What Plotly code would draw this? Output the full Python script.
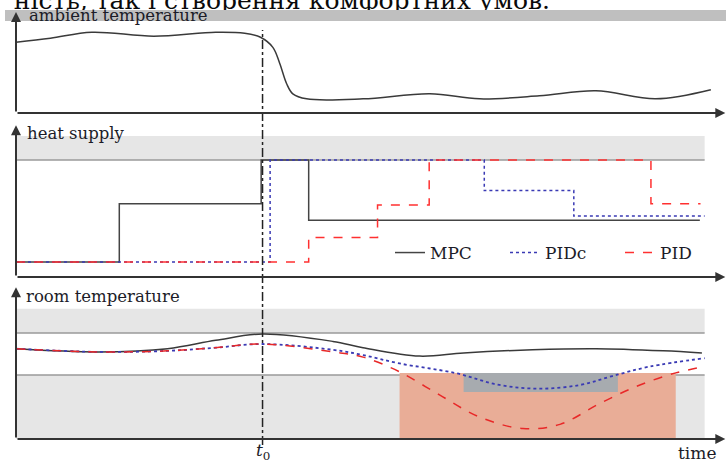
import plotly.graph_objects as go

W, H = 726, 464

# ---------------- data ----------------
amb_t = [0, 5, 11, 20, 29, 33.2, 35.5, 37.3, 38.3, 39.3, 40.2, 42.2, 50.4, 60.1, 67.3, 76, 84.2, 92.9, 100.9]
amb_v = [7.0, 7.4, 8.0, 7.6, 8.0, 7.9, 7.5, 6.5, 4.9, 2.9, 1.9, 1.4, 1.4, 1.9, 1.4, 1.7, 2.2, 1.4, 2.3]

mpc_q_t = [0, 15, 35.6, 42.5, 99.3]
mpc_q = [0, 57, 100, 41, 41]
pidc_q_t = [0, 36.9, 68, 81, 100]
pidc_q = [0, 100, 70, 45, 45]
pid_q_t = [0, 42.5, 52.5, 60, 92.2, 99.4]
pid_q = [0, 24, 56, 100, 57, 57]
q_max = 100
q_band_top = 123.5

mpc_T_t = [0, 12, 22, 29, 35.8, 46, 50.4, 58.6, 65, 75, 84.2, 94, 99.6]
mpc_T = [22.5, 22.2, 22.5, 23.3, 23.9, 23.2, 22.6, 21.8, 22.1, 22.4, 22.5, 22.3, 22.1]
pidc_T_t = [0, 12, 22, 29, 35.8, 46, 50.4, 55.7, 63.7, 70.2, 76.1, 81.9, 86.6, 92, 100]
pidc_T = [22.5, 22.2, 22.3, 22.6, 22.95, 22.4, 21.9, 21.1, 20.2, 19.05, 18.7, 19.05, 19.9, 20.8, 21.6]
pid_T_t = [0, 12, 22, 29, 35.8, 46, 50.4, 55.7, 61.5, 67.3, 73.6, 79, 84.8, 90.6, 95.8, 100]
pid_T = [22.5, 22.2, 22.3, 22.6, 22.95, 22.2, 21.7, 20.3, 18.1, 16.0, 14.9, 15.3, 17.3, 19.05, 20.2, 20.8]
T_low, T_high = 20, 24
T_band_top = 26.3
pid_viol = (55.7, 95.8, 20.19)
pidc_viol = (65, 87.4, 18.38, 20.19)

t0 = 35.8
t_end = 100

page_text = "ність, так і створення комфортних умов."

x_rng = [0, 103.1]
x_dom = [16 / W, 1]
def pdom(top_px, bot_px):
    return [1 - bot_px / H, 1 - top_px / H]

y1_rng = [0, 10.0]
y2_rng = [-14.7, 134.3]
y3_rng = [13.905, 28.38]

AX = "#333333"
FONT = "DejaVu Serif"
TXT = "#1c1c28"

fig = go.Figure()
fig.add_trace(go.Scatter(x=amb_t, y=amb_v, mode="lines", line=dict(color="#3a3a3a", width=1.5, shape="spline", smoothing=1.0),
                         xaxis="x", yaxis="y", showlegend=False, hoverinfo="skip"))
fig.add_trace(go.Scatter(x=mpc_q_t, y=mpc_q, mode="lines", name="MPC", line=dict(color="#444444", width=1.5, shape="hv"),
                         xaxis="x2", yaxis="y2"))
fig.add_trace(go.Scatter(x=pidc_q_t, y=pidc_q, mode="lines", name="PIDc", line=dict(color="#3a3ab4", width=1.5, dash="dot", shape="hv"),
                         xaxis="x2", yaxis="y2"))
fig.add_trace(go.Scatter(x=pid_q_t, y=pid_q, mode="lines", name="PID", line=dict(color="#ff3030", width=1.5, dash="dash", shape="hv"),
                         xaxis="x2", yaxis="y2"))
fig.add_trace(go.Scatter(x=mpc_T_t, y=mpc_T, mode="lines", line=dict(color="#3a3a3a", width=1.5, shape="spline"),
                         xaxis="x3", yaxis="y3", showlegend=False))
fig.add_trace(go.Scatter(x=pidc_T_t, y=pidc_T, mode="lines", line=dict(color="#3a3ab4", width=1.8, dash="dot", shape="spline"),
                         xaxis="x3", yaxis="y3", showlegend=False))
fig.add_trace(go.Scatter(x=pid_T_t, y=pid_T, mode="lines", line=dict(color="#e82828", width=1.5, dash="dash", shape="spline"),
                         xaxis="x3", yaxis="y3", showlegend=False))
# cut-off line of page text above the figure: placed in a thin top strip, clipped there
fig.add_trace(go.Scatter(x=[550], y=[20], mode="text", text=[page_text], textposition="bottom left",
                         textfont=dict(family=FONT, size=25, color="#0a0a0a"), cliponaxis=True,
                         xaxis="x4", yaxis="y4", showlegend=False, hoverinfo="skip"))

shapes = []
shapes.append(dict(type="rect", xref="paper", yref="paper", x0=5 / W, x1=1, y0=1 - 21 / H, y1=1 - 10 / H,
                   fillcolor="#bfbfbf", line=dict(width=0), layer="below"))
shapes.append(dict(type="rect", xref="x2", yref="y2", x0=0, x1=t_end, y0=q_max, y1=q_band_top,
                   fillcolor="#e6e6e6", line=dict(width=0), layer="below"))
shapes.append(dict(type="rect", xref="paper", yref="paper", x0=20 / W, x1=143 / W, y0=1 - 149 / H, y1=1 - 120 / H,
                   fillcolor="white", line=dict(width=0), layer="below"))
shapes.append(dict(type="line", xref="x2", yref="y2", x0=0, x1=t_end, y0=q_max, y1=q_max,
                   line=dict(color="#9a9a9a", width=1.5), layer="below"))
shapes.append(dict(type="rect", xref="x3", yref="y3", x0=0, x1=t_end, y0=T_high, y1=T_band_top,
                   fillcolor="#e6e6e6", line=dict(width=0), layer="below"))
shapes.append(dict(type="rect", xref="x3", yref="y3", x0=0, x1=t_end, y0=y3_rng[0], y1=T_low,
                   fillcolor="#e6e6e6", line=dict(width=0), layer="below"))
shapes.append(dict(type="line", xref="x3", yref="y3", x0=0, x1=t_end, y0=T_high, y1=T_high,
                   line=dict(color="#9a9a9a", width=1.5), layer="below"))
shapes.append(dict(type="line", xref="x3", yref="y3", x0=0, x1=t_end, y0=T_low, y1=T_low,
                   line=dict(color="#9a9a9a", width=1.5), layer="below"))
shapes.append(dict(type="rect", xref="x3", yref="y3", x0=pid_viol[0], x1=pid_viol[1], y0=y3_rng[0], y1=pid_viol[2],
                   fillcolor="#e9ad97", line=dict(width=0), layer="below"))
shapes.append(dict(type="rect", xref="x3", yref="y3", x0=pidc_viol[0], x1=pidc_viol[1], y0=pidc_viol[2], y1=pidc_viol[3],
                   fillcolor="#a7abaf", line=dict(width=0), layer="below"))
shapes.append(dict(type="line", xref="x3", yref="paper", x0=t0, x1=t0, y0=1 - 445 / H, y1=1 - 30 / H,
                   line=dict(color="#222222", width=1.5, dash="dashdot")))

annotations = []
def arrow(xref, yref, x, y, ax, ay):
    annotations.append(dict(xref=xref, yref=yref, axref=xref, ayref=yref, x=x, y=y, ax=ax, ay=ay, text="",
                            showarrow=True, arrowhead=2, arrowsize=1, arrowwidth=2, arrowcolor=AX, standoff=0))

for xr, yr, rng in (("x", "y", y1_rng), ("x2", "y2", y2_rng), ("x3", "y3", y3_rng)):
    arrow(xr, yr, 103.0, rng[0], 0, rng[0])
    arrow(xr, yr, 0, rng[1] - 0.001 * (rng[1] - rng[0]), 0, rng[0])

def label(text, xpx, ypx, size=16.5, anchor="left", yanchor="middle"):
    annotations.append(dict(xref="paper", yref="paper", x=xpx / W, y=1 - ypx / H, text=text, showarrow=False,
                            xanchor=anchor, yanchor=yanchor, font=dict(family=FONT, size=size, color=TXT)))

label("ambient temperature", 27, 16)
label("heat supply", 25, 134)
label("room temperature", 24, 296)
label("<i>t</i><sub>0</sub>", 263, 451, size=17, anchor="center")
label("time", 697, 453, size=17, anchor="center")

axis_common = dict(visible=False, showgrid=False, zeroline=False, fixedrange=True)
fig.update_layout(
    width=W, height=H,
    margin=dict(l=0, r=0, t=0, b=0, autoexpand=False),
    paper_bgcolor="white", plot_bgcolor="rgba(0,0,0,0)",
    font=dict(family=FONT),
    xaxis=dict(domain=x_dom, range=x_rng, anchor="y", **axis_common),
    yaxis=dict(domain=pdom(12, 113), range=y1_rng, anchor="x", **axis_common),
    xaxis2=dict(domain=x_dom, range=x_rng, anchor="y2", **axis_common),
    yaxis2=dict(domain=pdom(125, 277), range=y2_rng, anchor="x2", **axis_common),
    xaxis3=dict(domain=x_dom, range=x_rng, anchor="y3", **axis_common),
    yaxis3=dict(domain=pdom(287, 439), range=y3_rng, anchor="x3", **axis_common),
    xaxis4=dict(domain=[0, 1], range=[0, W], anchor="y4", **axis_common),
    yaxis4=dict(domain=pdom(0, 10), range=[0, 10], anchor="x4", **axis_common),
    shapes=shapes,
    annotations=annotations,
    showlegend=True,
    legend=dict(orientation="h", x=390 / W, y=1 - 253 / H, xanchor="left", yanchor="middle",
                font=dict(family=FONT, size=17, color=TXT), bgcolor="rgba(0,0,0,0)",
                entrywidth=70, itemwidth=30),
)

fig.write_html("out.html")
